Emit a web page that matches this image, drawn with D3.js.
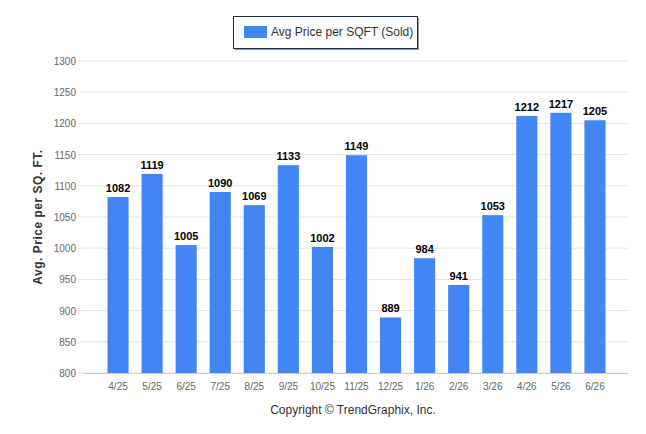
<!DOCTYPE html>
<html><head><meta charset="utf-8">
<script src="https://cdn.jsdelivr.net/npm/d3@7"></script>
<style>body{margin:0;background:#fff}text{font-family:"Liberation Sans",Arial,sans-serif}</style>
</head><body><svg id="c" width="646" height="434"></svg>
<script>
// chart data
var months = ["4/25","5/25","6/25","7/25","8/25","9/25","10/25","11/25","12/25","1/26","2/26","3/26","4/26","5/26","6/26"];
var prices = [1082,1119,1005,1090,1069,1133,1002,1149,889,984,941,1053,1212,1217,1205];
var yTicks = [800,850,900,950,1000,1050,1100,1150,1200,1250,1300];

var svg = d3.select("#c");
var plotTop = 61, plotBottom = 373, plotLeft = 84, plotRight = 628;
var barColor = "#4285f4";

var x = d3.scaleBand().domain(months).range([101, 612]).paddingInner(0.38).paddingOuter(0.19);
var y = d3.scaleLinear().domain([800, 1300]).range([plotBottom, plotTop]);

// gridlines
svg.selectAll(".grid").data(yTicks).enter().append("line")
    .attr("x1", plotLeft - 6).attr("x2", plotRight)
    .attr("y1", function(d) { return y(d); }).attr("y2", function(d) { return y(d); })
    .attr("stroke", "#e6e6e6").attr("stroke-width", 1);

// y tick labels
svg.selectAll(".yl").data(yTicks).enter().append("text")
    .attr("x", 76).attr("y", function(d) { return y(d) + 4; })
    .attr("text-anchor", "end").attr("font-size", 10).attr("fill", "#666")
    .text(function(d) { return d; });

// x axis
var xAxis = svg.append("g").attr("transform", "translate(0," + plotBottom + ")")
    .call(d3.axisBottom(x).tickSize(0).tickPadding(10));
xAxis.select(".domain").remove();
xAxis.selectAll("text").attr("font-size", 10).attr("fill", "#666");
svg.append("line").attr("x1", plotLeft).attr("x2", plotRight).attr("y1", plotBottom + 0.5).attr("y2", plotBottom + 0.5)
    .attr("stroke", "#ccc");

// bars
svg.selectAll(".bar").data(prices).enter().append("rect")
    .attr("x", function(d, i) { return x(months[i]); })
    .attr("width", x.bandwidth())
    .attr("y", function(d) { return y(d); })
    .attr("height", function(d) { return plotBottom - y(d); })
    .attr("fill", barColor);

// value labels
svg.selectAll(".vl").data(prices).enter().append("text")
    .attr("x", function(d, i) { return x(months[i]) + x.bandwidth() / 2; })
    .attr("y", function(d) { return y(d) - 5; })
    .attr("text-anchor", "middle").attr("font-size", 11).attr("font-weight", "bold").attr("fill", "#000")
    .text(function(d) { return d; });

// y axis title
svg.append("text").attr("transform", "translate(42,217) rotate(-90)")
    .attr("text-anchor", "middle").attr("font-size", 12).attr("font-weight", "bold").attr("fill", "#333")
    .attr("letter-spacing", 0.5)
    .text("Avg. Price per SQ. FT.");

// copyright
svg.append("text").attr("x", 353).attr("y", 414).attr("text-anchor", "middle")
    .attr("font-size", 12).attr("fill", "#333").text("Copyright \u00A9 TrendGraphix, Inc.");

// legend
svg.append("rect").attr("x", 235).attr("y", 18).attr("width", 184).attr("height", 32).attr("fill", "#999");
svg.append("rect").attr("x", 233.5).attr("y", 16.5).attr("width", 184).attr("height", 32)
    .attr("fill", "#fff").attr("stroke", "#1a2b4c");
svg.append("rect").attr("x", 244).attr("y", 26).attr("width", 23).attr("height", 12).attr("fill", barColor);
svg.append("text").attr("x", 271).attr("y", 36).attr("font-size", 12).attr("fill", "#333")
    .text("Avg Price per SQFT (Sold)");
</script></body></html>
